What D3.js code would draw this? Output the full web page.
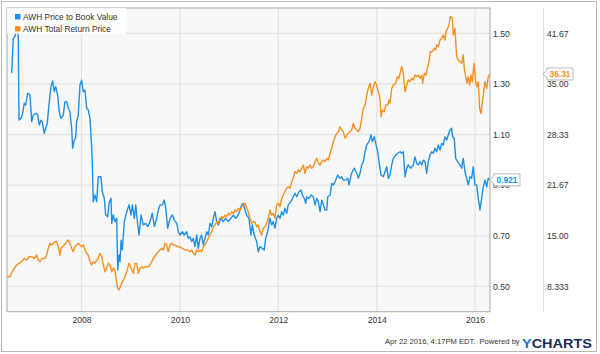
<!DOCTYPE html>
<html>
<head>
<meta charset="utf-8">
<script src="https://cdn.jsdelivr.net/npm/d3@7"></script>
<style>
  body { margin: 0; background: #fff; }
  svg { display: block; font-family: "Liberation Sans", Arial, sans-serif; }
</style>
</head>
<body>
<div id="chart"></div>
<script>
// AWH price/book vs total return price, mid 2006 - Apr 2016
// dates are decimal years

const seriesNames = ["AWH Price to Book Value", "AWH Total Return Price"];

const ptbSeries = [
  [2006.581, 1.342], [2006.614, 1.480], [2006.648, 1.487], [2006.689, 1.529], [2006.715, 1.487],
  [2006.730, 1.157], [2006.770, 1.164], [2006.797, 1.177], [2006.837, 1.223], [2006.866, 1.217],
  [2006.907, 1.263], [2006.953, 1.256], [2006.988, 1.151], [2007.020, 1.177], [2007.069, 1.184],
  [2007.110, 1.177], [2007.142, 1.138], [2007.177, 1.157], [2007.203, 1.151], [2007.244, 1.105],
  [2007.272, 1.125], [2007.305, 1.144], [2007.339, 1.217], [2007.380, 1.289], [2007.415, 1.312],
  [2007.447, 1.269], [2007.476, 1.289], [2007.516, 1.256], [2007.549, 1.190], [2007.583, 1.164],
  [2007.630, 1.177], [2007.665, 1.230], [2007.699, 1.230], [2007.732, 1.204], [2007.766, 1.190],
  [2007.801, 1.125], [2007.821, 1.046], [2007.854, 1.078], [2007.882, 1.085], [2007.902, 1.151],
  [2007.935, 1.177], [2007.970, 1.296], [2008.004, 1.315], [2008.037, 1.269], [2008.071, 1.276],
  [2008.106, 1.204], [2008.138, 1.197], [2008.173, 1.164], [2008.207, 1.052], [2008.220, 0.993],
  [2008.240, 0.835], [2008.274, 0.861], [2008.309, 0.835], [2008.341, 0.933], [2008.396, 0.933],
  [2008.423, 0.874], [2008.463, 0.848], [2008.492, 0.782], [2008.533, 0.775], [2008.559, 0.828],
  [2008.600, 0.848], [2008.614, 0.749], [2008.646, 0.782], [2008.681, 0.756], [2008.715, 0.769],
  [2008.736, 0.565], [2008.762, 0.624], [2008.783, 0.598], [2008.803, 0.683], [2008.829, 0.644],
  [2008.870, 0.756], [2008.919, 0.795], [2008.965, 0.822], [2009.006, 0.782], [2009.033, 0.822],
  [2009.073, 0.769], [2009.102, 0.822], [2009.142, 0.743], [2009.169, 0.703], [2009.209, 0.782],
  [2009.256, 0.743], [2009.305, 0.749], [2009.346, 0.736], [2009.392, 0.756], [2009.439, 0.789],
  [2009.480, 0.736], [2009.528, 0.769], [2009.561, 0.802], [2009.596, 0.822], [2009.642, 0.822],
  [2009.683, 0.841], [2009.711, 0.809], [2009.752, 0.730], [2009.799, 0.769], [2009.846, 0.782],
  [2009.886, 0.762], [2009.935, 0.749], [2009.968, 0.716], [2010.002, 0.703], [2010.049, 0.716],
  [2010.089, 0.703], [2010.138, 0.716], [2010.171, 0.690], [2010.205, 0.696], [2010.240, 0.677],
  [2010.272, 0.690], [2010.307, 0.657], [2010.341, 0.703], [2010.374, 0.650], [2010.409, 0.690],
  [2010.443, 0.703], [2010.476, 0.664], [2010.510, 0.690], [2010.545, 0.716], [2010.577, 0.703],
  [2010.612, 0.749], [2010.646, 0.736], [2010.679, 0.769], [2010.713, 0.795], [2010.748, 0.756],
  [2010.780, 0.743], [2010.835, 0.769], [2010.882, 0.756], [2010.931, 0.769], [2010.984, 0.756],
  [2011.039, 0.769], [2011.085, 0.782], [2011.134, 0.769], [2011.187, 0.782], [2011.222, 0.802],
  [2011.256, 0.822], [2011.289, 0.828], [2011.323, 0.802], [2011.358, 0.782], [2011.404, 0.769],
  [2011.445, 0.703], [2011.472, 0.743], [2011.512, 0.703], [2011.561, 0.677], [2011.593, 0.637],
  [2011.628, 0.657], [2011.675, 0.650], [2011.715, 0.644], [2011.744, 0.690], [2011.785, 0.716],
  [2011.831, 0.769], [2011.866, 0.743], [2011.898, 0.756], [2011.933, 0.730], [2011.967, 0.769],
  [2012.000, 0.782], [2012.035, 0.769], [2012.069, 0.795], [2012.102, 0.782], [2012.136, 0.809],
  [2012.171, 0.789], [2012.203, 0.822], [2012.258, 0.835], [2012.305, 0.854], [2012.339, 0.868],
  [2012.374, 0.854], [2012.421, 0.874], [2012.461, 0.881], [2012.488, 0.861], [2012.528, 0.848],
  [2012.557, 0.828], [2012.577, 0.854], [2012.624, 0.848], [2012.665, 0.861], [2012.711, 0.854],
  [2012.746, 0.822], [2012.780, 0.848], [2012.813, 0.835], [2012.848, 0.795], [2012.882, 0.841],
  [2012.915, 0.822], [2012.949, 0.802], [2012.984, 0.802], [2013.004, 0.854], [2013.051, 0.861],
  [2013.085, 0.907], [2013.118, 0.901], [2013.152, 0.914], [2013.207, 0.940], [2013.254, 0.927],
  [2013.289, 0.933], [2013.321, 0.920], [2013.370, 0.920], [2013.411, 0.927], [2013.437, 0.901],
  [2013.478, 0.940], [2013.504, 0.953], [2013.545, 0.967], [2013.593, 0.947], [2013.626, 0.927],
  [2013.661, 0.947], [2013.695, 0.980], [2013.728, 0.993], [2013.762, 1.032], [2013.797, 1.059],
  [2013.843, 1.072], [2013.884, 1.098], [2013.911, 1.072], [2013.951, 1.091], [2013.980, 1.065],
  [2014.020, 1.032], [2014.047, 0.993], [2014.087, 0.940], [2014.134, 0.933], [2014.169, 0.953],
  [2014.203, 0.973], [2014.236, 0.927], [2014.270, 0.940], [2014.305, 0.980], [2014.337, 1.006],
  [2014.386, 1.019], [2014.427, 1.026], [2014.474, 1.032], [2014.508, 1.026], [2014.541, 1.032],
  [2014.575, 0.933], [2014.610, 0.967], [2014.642, 0.980], [2014.697, 0.967], [2014.744, 0.980],
  [2014.778, 1.012], [2014.813, 0.986], [2014.846, 0.980], [2014.880, 0.993], [2014.915, 0.980],
  [2014.947, 0.999], [2014.982, 0.993], [2015.016, 0.947], [2015.049, 0.993], [2015.083, 1.019],
  [2015.118, 1.032], [2015.150, 1.026], [2015.185, 1.046], [2015.219, 1.032], [2015.252, 1.059],
  [2015.287, 1.039], [2015.321, 1.065], [2015.354, 1.059], [2015.388, 1.091], [2015.423, 1.078],
  [2015.455, 1.098], [2015.490, 1.118], [2015.524, 1.125], [2015.545, 1.091], [2015.577, 1.085],
  [2015.606, 1.006], [2015.646, 0.993], [2015.693, 0.980], [2015.728, 0.967], [2015.760, 1.006],
  [2015.795, 0.953], [2015.829, 0.927], [2015.862, 0.901], [2015.896, 0.933], [2015.931, 0.927],
  [2015.963, 0.973], [2015.998, 0.901], [2016.032, 0.901], [2016.065, 0.848], [2016.100, 0.802],
  [2016.134, 0.848], [2016.167, 0.894], [2016.201, 0.920], [2016.236, 0.894], [2016.268, 0.927],
  [2016.303, 0.921]
];

const trSeries = [
  [2006.486, 9.61], [2006.547, 9.61], [2006.594, 10.27], [2006.634, 10.72], [2006.683, 11.15],
  [2006.730, 11.37], [2006.785, 11.59], [2006.837, 12.03], [2006.886, 11.81], [2006.933, 12.24],
  [2006.988, 12.24], [2007.041, 12.03], [2007.089, 12.47], [2007.122, 11.81], [2007.157, 11.59],
  [2007.203, 12.03], [2007.258, 12.03], [2007.293, 12.47], [2007.325, 13.35], [2007.360, 14.01],
  [2007.394, 13.78], [2007.427, 14.01], [2007.461, 14.22], [2007.496, 14.22], [2007.528, 13.56],
  [2007.563, 12.47], [2007.583, 13.35], [2007.610, 13.56], [2007.650, 13.78], [2007.699, 14.22],
  [2007.732, 14.44], [2007.766, 14.01], [2007.801, 13.35], [2007.833, 12.90], [2007.868, 13.56],
  [2007.902, 13.78], [2007.935, 14.01], [2007.970, 13.78], [2008.004, 13.56], [2008.037, 13.78],
  [2008.071, 13.13], [2008.106, 12.69], [2008.138, 12.47], [2008.173, 11.59], [2008.207, 11.15],
  [2008.240, 11.59], [2008.274, 11.37], [2008.309, 11.81], [2008.341, 12.03], [2008.376, 12.69],
  [2008.411, 12.24], [2008.443, 11.15], [2008.478, 10.27], [2008.512, 10.72], [2008.545, 11.37],
  [2008.579, 11.15], [2008.614, 10.27], [2008.646, 10.72], [2008.681, 10.49], [2008.701, 9.40],
  [2008.736, 8.08], [2008.762, 7.86], [2008.803, 8.52], [2008.829, 8.95], [2008.870, 9.40],
  [2008.919, 10.27], [2008.965, 11.37], [2009.006, 10.72], [2009.053, 10.06], [2009.087, 11.37],
  [2009.122, 11.37], [2009.154, 10.06], [2009.189, 10.72], [2009.224, 10.93], [2009.256, 10.72],
  [2009.305, 10.93], [2009.358, 10.93], [2009.392, 11.15], [2009.427, 11.59], [2009.459, 12.03],
  [2009.508, 12.47], [2009.561, 12.90], [2009.596, 13.13], [2009.630, 13.35], [2009.663, 13.13],
  [2009.697, 14.01], [2009.732, 13.78], [2009.764, 12.90], [2009.799, 13.78], [2009.833, 14.01],
  [2009.866, 13.78], [2009.900, 13.78], [2009.955, 13.56], [2010.002, 13.56], [2010.049, 13.35],
  [2010.104, 13.13], [2010.159, 13.13], [2010.205, 12.90], [2010.240, 13.13], [2010.272, 12.69],
  [2010.307, 12.47], [2010.341, 13.13], [2010.374, 12.90], [2010.409, 13.13], [2010.443, 12.90],
  [2010.476, 13.56], [2010.510, 13.78], [2010.545, 14.22], [2010.577, 14.67], [2010.612, 15.10],
  [2010.646, 15.54], [2010.679, 16.19], [2010.713, 16.42], [2010.748, 16.85], [2010.780, 16.64],
  [2010.815, 17.30], [2010.850, 17.51], [2010.882, 17.30], [2010.917, 17.74], [2010.951, 17.51],
  [2010.984, 17.96], [2011.018, 17.74], [2011.053, 18.17], [2011.085, 17.96], [2011.120, 18.39],
  [2011.154, 18.17], [2011.187, 18.62], [2011.222, 18.39], [2011.256, 18.83], [2011.289, 19.05],
  [2011.323, 19.28], [2011.358, 18.62], [2011.390, 18.17], [2011.425, 17.30], [2011.459, 16.64],
  [2011.492, 16.85], [2011.526, 16.85], [2011.561, 16.19], [2011.593, 16.42], [2011.628, 15.54],
  [2011.663, 15.10], [2011.695, 15.98], [2011.730, 16.19], [2011.764, 16.64], [2011.797, 17.30],
  [2011.831, 18.39], [2011.866, 17.74], [2011.898, 17.96], [2011.933, 17.30], [2011.967, 19.05],
  [2012.000, 19.28], [2012.035, 18.83], [2012.069, 19.93], [2012.102, 20.37], [2012.136, 20.80],
  [2012.171, 21.25], [2012.203, 21.46], [2012.238, 21.25], [2012.272, 22.12], [2012.305, 22.57],
  [2012.339, 23.44], [2012.374, 23.23], [2012.407, 23.66], [2012.441, 23.44], [2012.476, 23.89],
  [2012.508, 24.32], [2012.543, 23.23], [2012.577, 24.10], [2012.610, 23.89], [2012.644, 24.32],
  [2012.679, 23.89], [2012.711, 24.10], [2012.746, 24.76], [2012.780, 25.20], [2012.813, 24.54],
  [2012.848, 24.32], [2012.882, 24.76], [2012.915, 24.98], [2012.949, 24.76], [2012.984, 25.20],
  [2013.016, 24.98], [2013.051, 25.86], [2013.085, 26.52], [2013.118, 27.39], [2013.152, 28.05],
  [2013.187, 28.50], [2013.220, 28.71], [2013.254, 29.36], [2013.289, 28.93], [2013.321, 28.71],
  [2013.356, 27.84], [2013.390, 28.27], [2013.423, 28.50], [2013.457, 28.71], [2013.492, 28.93],
  [2013.524, 29.81], [2013.559, 29.15], [2013.593, 28.93], [2013.626, 28.71], [2013.661, 29.15],
  [2013.695, 30.47], [2013.728, 31.79], [2013.762, 32.22], [2013.797, 33.54], [2013.829, 34.42],
  [2013.864, 35.08], [2013.898, 33.54], [2013.931, 34.63], [2013.965, 35.29], [2014.000, 34.86],
  [2014.032, 33.97], [2014.067, 33.10], [2014.087, 30.68], [2014.114, 31.56], [2014.154, 31.34],
  [2014.183, 32.22], [2014.224, 32.22], [2014.250, 32.88], [2014.270, 32.45], [2014.305, 34.42],
  [2014.337, 34.86], [2014.386, 35.08], [2014.419, 35.95], [2014.453, 35.74], [2014.474, 36.40],
  [2014.508, 37.27], [2014.541, 36.40], [2014.575, 33.97], [2014.610, 34.86], [2014.642, 35.51],
  [2014.677, 35.29], [2014.711, 35.74], [2014.744, 35.51], [2014.778, 36.17], [2014.813, 35.95],
  [2014.846, 36.17], [2014.880, 35.74], [2014.915, 36.17], [2014.935, 35.08], [2014.967, 36.40],
  [2015.002, 36.17], [2015.037, 37.27], [2015.063, 37.93], [2015.089, 39.24], [2015.130, 39.24],
  [2015.171, 39.69], [2015.199, 39.47], [2015.219, 40.12], [2015.252, 39.90], [2015.287, 40.78],
  [2015.321, 41.01], [2015.354, 41.44], [2015.388, 40.78], [2015.409, 41.88], [2015.443, 42.32],
  [2015.469, 42.76], [2015.496, 43.85], [2015.537, 43.72], [2015.557, 41.44], [2015.591, 42.32],
  [2015.626, 38.58], [2015.658, 38.15], [2015.693, 37.93], [2015.728, 37.71], [2015.760, 38.81],
  [2015.780, 37.06], [2015.809, 35.95], [2015.835, 35.08], [2015.862, 35.95], [2015.890, 34.86],
  [2015.917, 36.17], [2015.943, 35.29], [2015.978, 37.71], [2016.012, 35.29], [2016.039, 34.63],
  [2016.065, 35.29], [2016.093, 31.79], [2016.120, 31.13], [2016.146, 32.45], [2016.175, 33.97],
  [2016.201, 35.29], [2016.236, 34.42], [2016.268, 35.95], [2016.303, 36.31]
];

const ptbDomain = [0.4, 1.6];
const trDomain = [5, 45];
const ptbTicks = [0.5, 0.7, 0.9, 1.1, 1.3, 1.5];
const trTicks = [8.333, 15, 21.67, 28.33, 35, 41.67];
const trTickLabels = ["8.333", "15.00", "21.67", "28.33", "35.00", "41.67"];
const lastLabels = ["0.921", "36.31"];
const footerText = "Apr 22 2016, 4:17PM EDT.  Powered by";

const blue = "#1f8fe8";
const orange = "#f7901e";
const textColor = "#333";
const gridColor = "#e3e3e3";

const width = 600, height = 354;
const plot = { left: 7, top: 8, right: 490, bottom: 311.7 };

// decimal year -> Date
function toDate(yr) {
  const y = Math.floor(yr);
  const a = new Date(y, 0, 1), b = new Date(y + 1, 0, 1);
  return new Date(+a + (yr - y) * (b - a));
}

const ptb = ptbSeries.map(d => ({ date: toDate(d[0]), value: d[1] }));
const tr = trSeries.map(d => ({ date: toDate(d[0]), value: d[1] }));

const svg = d3.select("#chart").append("svg")
  .attr("width", width)
  .attr("height", height);

// outer frame
svg.append("rect")
  .attr("x", 1.5).attr("y", 1.5)
  .attr("width", 595).attr("height", 350)
  .attr("fill", "#fff")
  .attr("stroke", "#b8b8b8");

const x = d3.scaleTime()
  .domain([tr[0].date, tr[tr.length - 1].date])
  .range([plot.left, plot.right]);

const yL = d3.scaleLinear().domain(ptbDomain).range([plot.bottom, plot.top]);
const yR = d3.scaleLinear().domain(trDomain).range([plot.bottom, plot.top]);

// plot background
svg.append("rect")
  .attr("x", plot.left).attr("y", plot.top)
  .attr("width", plot.right - plot.left)
  .attr("height", plot.bottom - plot.top)
  .attr("fill", "#f8f8f8");

const yearTicks = x.ticks(d3.timeYear.every(2));

// grid
const grid = svg.append("g");
grid.selectAll("line.h")
  .data(ptbTicks)
  .join("line")
  .attr("class", "h")
  .attr("x1", plot.left).attr("x2", plot.right)
  .attr("y1", d => yL(d)).attr("y2", d => yL(d))
  .attr("stroke", gridColor)
  .attr("stroke-width", 1.2);

grid.selectAll("line.v")
  .data(yearTicks)
  .join("line")
  .attr("class", "v")
  .attr("x1", d => x(d)).attr("x2", d => x(d))
  .attr("y1", plot.top).attr("y2", plot.bottom)
  .attr("stroke", gridColor)
  .attr("stroke-width", 1.2);

svg.append("clipPath").attr("id", "clip")
  .append("rect")
  .attr("x", plot.left).attr("y", plot.top)
  .attr("width", plot.right - plot.left)
  .attr("height", plot.bottom - plot.top);

const lines = svg.append("g").attr("clip-path", "url(#clip)");

lines.append("path")
  .datum(ptb)
  .attr("fill", "none")
  .attr("stroke", blue)
  .attr("stroke-width", 1.4)
  .attr("stroke-linejoin", "round")
  .attr("d", d3.line().x(d => x(d.date)).y(d => yL(d.value)));

lines.append("path")
  .datum(tr)
  .attr("fill", "none")
  .attr("stroke", orange)
  .attr("stroke-width", 1.4)
  .attr("stroke-linejoin", "round")
  .attr("d", d3.line().x(d => x(d.date)).y(d => yR(d.value)));

// plot border
svg.append("rect")
  .attr("x", plot.left).attr("y", plot.top)
  .attr("width", plot.right - plot.left)
  .attr("height", plot.bottom - plot.top)
  .attr("fill", "none")
  .attr("stroke", "#a8a8a8");

// divider between the two value axes
svg.append("line")
  .attr("x1", 543.5).attr("x2", 543.5)
  .attr("y1", plot.top).attr("y2", plot.bottom)
  .attr("stroke", "#dcdcdc");

// axes
const leftAxis = svg.append("g")
  .attr("transform", `translate(${plot.right},0)`)
  .call(d3.axisRight(yL).tickValues(ptbTicks).tickSize(0).tickPadding(3).tickFormat(d3.format(".2f")));

const rightAxis = svg.append("g")
  .attr("transform", "translate(544,0)")
  .call(d3.axisRight(yR).tickValues(trTicks).tickSize(0).tickPadding(3).tickFormat((d, i) => trTickLabels[i]));

const xAxis = svg.append("g")
  .attr("transform", `translate(0,${plot.bottom})`)
  .call(d3.axisBottom(x).tickValues(yearTicks).tickSize(0).tickPadding(5).tickFormat(d3.timeFormat("%Y")));

[leftAxis, rightAxis, xAxis].forEach(a => {
  a.select(".domain").remove();
  a.selectAll("text")
    .attr("fill", textColor)
    .style("font-size", "8.6px")
    .style("font-family", "'Liberation Sans', Arial, sans-serif");
});

// legend
const legend = svg.append("g").attr("transform", `translate(${plot.left},${plot.top})`);
legend.append("rect")
  .attr("width", 119).attr("height", 26)
  .attr("fill", "#fff").attr("fill-opacity", 0.8);

const legendItems = legend.selectAll("g.item")
  .data(seriesNames)
  .join("g")
  .attr("class", "item")
  .attr("transform", (d, i) => `translate(8,${6 + i * 12})`);

legendItems.append("rect")
  .attr("width", 5.5).attr("height", 5.5)
  .attr("fill", (d, i) => i === 0 ? blue : orange);

legendItems.append("text")
  .attr("x", 8).attr("y", 5.5)
  .attr("fill", textColor)
  .style("font-size", "8.4px")
  .text(d => d);

// last value flags
function flag(xStart, yPos, label, color) {
  const w = 26, h = 12;
  const g = svg.append("g");
  g.append("path")
    .attr("d", `M${xStart - 4},${yPos} L${xStart},${yPos - 4} L${xStart},${yPos - h / 2} L${xStart + w},${yPos - h / 2} L${xStart + w},${yPos + h / 2} L${xStart},${yPos + h / 2} L${xStart},${yPos + 4} Z`)
    .attr("fill", "#fff")
    .attr("stroke", "#aaa")
    .attr("stroke-width", 0.8);
  g.append("text")
    .attr("x", xStart + w / 2).attr("y", yPos)
    .attr("dy", "0.34em")
    .attr("text-anchor", "middle")
    .attr("fill", color)
    .style("font-size", "8.4px")
    .style("font-weight", "bold")
    .text(label);
}

flag(494, yL(ptb[ptb.length - 1].value), lastLabels[0], blue);
flag(547, yR(tr[tr.length - 1].value), lastLabels[1], orange);

// footer
svg.append("text")
  .attr("x", 385).attr("y", 344)
  .attr("fill", textColor)
  .style("font-size", "7.6px")
  .attr("xml:space", "preserve")
  .text(footerText);

const logo = svg.append("text")
  .attr("x", 522).attr("y", 347.5)
  .attr("textLength", 70)
  .attr("lengthAdjust", "spacingAndGlyphs")
  .style("font-size", "13px")
  .style("font-weight", "bold");
logo.append("tspan").attr("fill", "#1e72d6").text("Y");
logo.append("tspan").attr("fill", "#1a2b57").text("CHARTS");
</script>
</body>
</html>
